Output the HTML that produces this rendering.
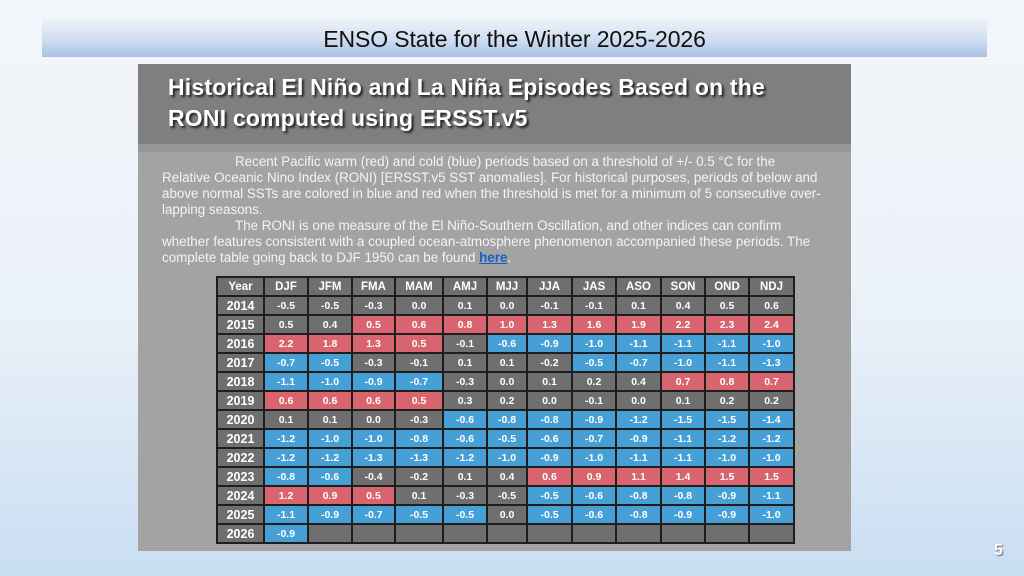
<!DOCTYPE html>
<html><head><meta charset="utf-8"><style>
*{margin:0;padding:0;box-sizing:border-box}
body{width:1024px;height:576px;overflow:hidden;position:relative;font-family:"Liberation Sans",sans-serif;
background:linear-gradient(180deg,#f3f6fa 0%,#eaf1f8 55%,#c9def2 100%)}
#tb{position:absolute;left:42px;top:19px;width:945px;height:38px;background:linear-gradient(180deg,#eef3fa 0%,#d3e0f1 50%,#a9c2e4 100%);text-align:center;font-size:23px;line-height:40px;color:#111;letter-spacing:-0.1px}
#panel{position:absolute;left:138px;top:64px;width:713px;height:487px;background:#a3a3a3}
#hd{position:absolute;left:0;top:0;width:713px;height:80px;background:#7f7f7f}
#stripe{position:absolute;left:0;top:80px;width:713px;height:8px;background:#969696}
#h1{position:absolute;left:30px;top:8px;color:#fff;font-weight:bold;font-size:23px;line-height:31px;text-shadow:2px 2px 2px #222;letter-spacing:0.2px}
.ln{position:absolute;left:24px;color:#f4f4f4;font-size:13.4px;white-space:nowrap;letter-spacing:0}
.ln a{color:#1560c0;font-weight:bold;text-decoration:underline}
table{position:absolute;left:216px;top:276px;width:577px;height:268px;border-collapse:collapse;table-layout:fixed}
td{border:2px solid #1e1e1e;background:#6f6f6f;color:#fff;font-weight:bold;font-size:10.5px;text-align:center;height:19px;padding:0}
tr.h td{font-size:11.5px}
td.y{font-size:12.5px}
.r{background:#d8646f}.b{background:#46a0d6}
#pn{position:absolute;left:994px;top:542px;color:#fff;font-weight:bold;font-size:16px;text-shadow:1px 1px 1px #667}
</style></head><body>
<div id="tb">ENSO State for the Winter 2025-2026</div>
<div id="panel">
<div id="hd"><div id="h1">Historical El Niño and La Niña Episodes Based on the<br>RONI computed using ERSST.v5</div></div>
<div id="stripe"></div>
<div class="ln" style="top:90px;left:97px">Recent Pacific warm (red) and cold (blue) periods based on a threshold of +/- 0.5 °C for the</div>
<div class="ln" style="top:106px">Relative Oceanic Nino Index (RONI) [ERSST.v5 SST anomalies]. For historical purposes, periods of below and</div>
<div class="ln" style="top:122px">above normal SSTs are colored in blue and red when the threshold is met for a minimum of 5 consecutive over-</div>
<div class="ln" style="top:138px">lapping seasons.</div>
<div class="ln" style="top:154px;left:97px">The RONI is one measure of the El Niño-Southern Oscillation, and other indices can confirm</div>
<div class="ln" style="top:170px">whether features consistent with a coupled ocean-atmosphere phenomenon accompanied these periods. The</div>
<div class="ln" style="top:186px">complete table going back to DJF 1950 can be found <a>here</a>.</div>
</div>
<table>
<colgroup><col style="width:47px"><col style="width:44px"><col style="width:44px"><col style="width:43px"><col style="width:48px"><col style="width:44px"><col style="width:40px"><col style="width:45px"><col style="width:44px"><col style="width:45px"><col style="width:44px"><col style="width:44px"><col style="width:45px"></colgroup>
<tr class="h"><td>Year</td><td>DJF</td><td>JFM</td><td>FMA</td><td>MAM</td><td>AMJ</td><td>MJJ</td><td>JJA</td><td>JAS</td><td>ASO</td><td>SON</td><td>OND</td><td>NDJ</td></tr>
<tr><td class="y">2014</td><td>-0.5</td><td>-0.5</td><td>-0.3</td><td>0.0</td><td>0.1</td><td>0.0</td><td>-0.1</td><td>-0.1</td><td>0.1</td><td>0.4</td><td>0.5</td><td>0.6</td></tr>
<tr><td class="y">2015</td><td>0.5</td><td>0.4</td><td class="r">0.5</td><td class="r">0.6</td><td class="r">0.8</td><td class="r">1.0</td><td class="r">1.3</td><td class="r">1.6</td><td class="r">1.9</td><td class="r">2.2</td><td class="r">2.3</td><td class="r">2.4</td></tr>
<tr><td class="y">2016</td><td class="r">2.2</td><td class="r">1.8</td><td class="r">1.3</td><td class="r">0.5</td><td>-0.1</td><td class="b">-0.6</td><td class="b">-0.9</td><td class="b">-1.0</td><td class="b">-1.1</td><td class="b">-1.1</td><td class="b">-1.1</td><td class="b">-1.0</td></tr>
<tr><td class="y">2017</td><td class="b">-0.7</td><td class="b">-0.5</td><td>-0.3</td><td>-0.1</td><td>0.1</td><td>0.1</td><td>-0.2</td><td class="b">-0.5</td><td class="b">-0.7</td><td class="b">-1.0</td><td class="b">-1.1</td><td class="b">-1.3</td></tr>
<tr><td class="y">2018</td><td class="b">-1.1</td><td class="b">-1.0</td><td class="b">-0.9</td><td class="b">-0.7</td><td>-0.3</td><td>0.0</td><td>0.1</td><td>0.2</td><td>0.4</td><td class="r">0.7</td><td class="r">0.8</td><td class="r">0.7</td></tr>
<tr><td class="y">2019</td><td class="r">0.6</td><td class="r">0.6</td><td class="r">0.6</td><td class="r">0.5</td><td>0.3</td><td>0.2</td><td>0.0</td><td>-0.1</td><td>0.0</td><td>0.1</td><td>0.2</td><td>0.2</td></tr>
<tr><td class="y">2020</td><td>0.1</td><td>0.1</td><td>0.0</td><td>-0.3</td><td class="b">-0.6</td><td class="b">-0.8</td><td class="b">-0.8</td><td class="b">-0.9</td><td class="b">-1.2</td><td class="b">-1.5</td><td class="b">-1.5</td><td class="b">-1.4</td></tr>
<tr><td class="y">2021</td><td class="b">-1.2</td><td class="b">-1.0</td><td class="b">-1.0</td><td class="b">-0.8</td><td class="b">-0.6</td><td class="b">-0.5</td><td class="b">-0.6</td><td class="b">-0.7</td><td class="b">-0.9</td><td class="b">-1.1</td><td class="b">-1.2</td><td class="b">-1.2</td></tr>
<tr><td class="y">2022</td><td class="b">-1.2</td><td class="b">-1.2</td><td class="b">-1.3</td><td class="b">-1.3</td><td class="b">-1.2</td><td class="b">-1.0</td><td class="b">-0.9</td><td class="b">-1.0</td><td class="b">-1.1</td><td class="b">-1.1</td><td class="b">-1.0</td><td class="b">-1.0</td></tr>
<tr><td class="y">2023</td><td class="b">-0.8</td><td class="b">-0.6</td><td>-0.4</td><td>-0.2</td><td>0.1</td><td>0.4</td><td class="r">0.6</td><td class="r">0.9</td><td class="r">1.1</td><td class="r">1.4</td><td class="r">1.5</td><td class="r">1.5</td></tr>
<tr><td class="y">2024</td><td class="r">1.2</td><td class="r">0.9</td><td class="r">0.5</td><td>0.1</td><td>-0.3</td><td>-0.5</td><td class="b">-0.5</td><td class="b">-0.6</td><td class="b">-0.8</td><td class="b">-0.8</td><td class="b">-0.9</td><td class="b">-1.1</td></tr>
<tr><td class="y">2025</td><td class="b">-1.1</td><td class="b">-0.9</td><td class="b">-0.7</td><td class="b">-0.5</td><td class="b">-0.5</td><td>0.0</td><td class="b">-0.5</td><td class="b">-0.6</td><td class="b">-0.8</td><td class="b">-0.9</td><td class="b">-0.9</td><td class="b">-1.0</td></tr>
<tr><td class="y">2026</td><td class="b">-0.9</td><td></td><td></td><td></td><td></td><td></td><td></td><td></td><td></td><td></td><td></td><td></td></tr>
</table>
<div id="pn">5</div>
</body></html>
